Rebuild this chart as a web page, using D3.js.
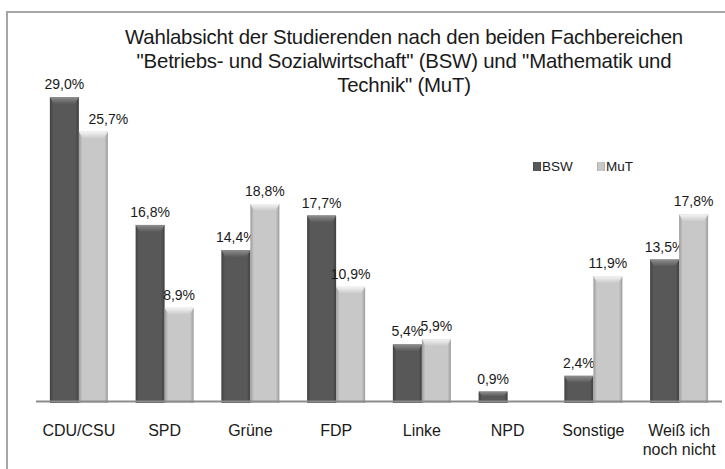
<!doctype html>
<html lang="de">
<head>
<meta charset="UTF-8">
<title>Wahlabsicht der Studierenden</title>
<style>
    body { margin: 0; background: #fff; }
    svg { display: block; font-family: "Liberation Sans", Arial, sans-serif; }
    .title { font-size: 20.4px; fill: #1a1a1a; letter-spacing: -0.2px; }
    .val { font-size: 14px; fill: #1a1a1a; }
    .cat { font-size: 16px; fill: #1a1a1a; }
    .leg { font-size: 13.5px; fill: #1a1a1a; }
</style>
</head>
<body>
<svg width="725" height="469"></svg>
<script src="https://d3js.org/d3.v7.min.js"></script>
<script>
// Daten
const categories = ["CDU/CSU", "SPD", "Grüne", "FDP", "Linke", "NPD", "Sonstige", "Weiß ich noch nicht"];
const seriesNames = ["BSW", "MuT"];
const bswValues = [29.0, 16.8, 14.4, 17.7, 5.4, 0.9, 2.4, 13.5];
const mutValues = [25.7, 8.9, 18.8, 10.9, 5.9, 0, 11.9, 17.8];
const titleLines = [
    "Wahlabsicht der Studierenden nach den beiden Fachbereichen",
    "\"Betriebs- und Sozialwirtschaft\" (BSW) und \"Mathematik und",
    "Technik\" (MuT)"
];

const svg = d3.select("svg");
const baseY = 401;

// Rahmen
svg.append("rect")
    .attr("x", 7).attr("y", 12)
    .attr("width", 740).attr("height", 480)
    .attr("fill", "none")
    .attr("stroke", "#a6a6a6")
    .attr("stroke-width", 2);

// Verläufe für die Balken
const defs = svg.append("defs");
const palette = {
    BSW: { mid: "#585858", edge: "#404040", top: "#8e8e8e" },
    MuT: { mid: "#c8c8c8", edge: "#9c9c9c", top: "#f4f4f4" }
};
seriesNames.forEach(s => {
    const g = defs.append("linearGradient").attr("id", "side-" + s)
        .attr("x1", 0).attr("x2", 1).attr("y1", 0).attr("y2", 0);
    g.append("stop").attr("offset", "0%").attr("stop-color", palette[s].edge);
    g.append("stop").attr("offset", "12%").attr("stop-color", palette[s].mid);
    g.append("stop").attr("offset", "88%").attr("stop-color", palette[s].mid);
    g.append("stop").attr("offset", "100%").attr("stop-color", palette[s].edge);
    const t = defs.append("linearGradient").attr("id", "top-" + s)
        .attr("x1", 0).attr("x2", 0).attr("y1", 0).attr("y2", 1);
    t.append("stop").attr("offset", "0%").attr("stop-color", palette[s].top);
    t.append("stop").attr("offset", "100%").attr("stop-color", palette[s].mid);
});

// Skalen
const x0 = d3.scaleBand().domain(categories).range([36, 722]);
const x1 = d3.scaleBand().domain(seriesNames).range([0, x0.bandwidth()]).paddingOuter(0.478);
const y = d3.scaleLinear().domain([0, 30]).range([baseY, baseY - 314.4]);

const rows = categories.map((c, i) => ({ cat: c, BSW: bswValues[i], MuT: mutValues[i] }));
const fmt = v => d3.format(".1f")(v).replace(".", ",") + "%";
const labelShift = { "CDU/CSU-MuT": 15 };

const groups = svg.append("g").selectAll("g")
    .data(rows).join("g")
    .attr("transform", d => `translate(${x0(d.cat)},0)`);

const bars = groups.selectAll("g.bar")
    .data(d => seriesNames.map(s => ({ cat: d.cat, key: s, value: d[s] })).filter(d => d.value > 0))
    .join("g").attr("class", "bar");

bars.append("rect")
    .attr("x", d => x1(d.key))
    .attr("y", d => y(d.value))
    .attr("width", x1.bandwidth())
    .attr("height", d => baseY - y(d.value) + 2)
    .attr("fill", d => `url(#side-${d.key})`);

// heller oberer Rand (Fase)
bars.append("path")
    .attr("d", d => {
        const x = x1(d.key), w = x1.bandwidth(), t = y(d.value);
        const h = Math.min(7, (baseY - t) / 2);
        return `M${x},${t}H${x + w}L${x + w - 4},${t + h}H${x + 4}Z`;
    })
    .attr("fill", d => `url(#top-${d.key})`);

bars.append("text")
    .attr("class", "val")
    .attr("x", d => x1(d.key) + x1.bandwidth() / 2 + (labelShift[d.cat + "-" + d.key] || 0))
    .attr("y", d => y(d.value) - 8)
    .attr("text-anchor", "middle")
    .text(d => fmt(d.value));

// x-Achse
svg.append("line")
    .attr("x1", 36).attr("x2", 722)
    .attr("y1", baseY + 0.5).attr("y2", baseY + 0.5)
    .attr("stroke", "#8c8c8c").attr("stroke-width", 2);

svg.append("g").selectAll("text")
    .data(categories).join("text")
    .attr("class", "cat")
    .attr("text-anchor", "middle")
    .attr("x", d => x0(d) + x0.bandwidth() / 2)
    .attr("y", 436)
    .each(function(d) {
        const lines = d === "Weiß ich noch nicht" ? ["Weiß ich", "noch nicht"] : [d];
        d3.select(this).selectAll("tspan").data(lines).join("tspan")
            .attr("x", x0(d) + x0.bandwidth() / 2)
            .attr("dy", (l, i) => i ? 19 : 0)
            .text(l => l);
    });

// Titel
svg.append("g").selectAll("text")
    .data(titleLines).join("text")
    .attr("class", "title")
    .attr("text-anchor", "middle")
    .attr("x", 404)
    .attr("y", (d, i) => 44 + i * 24)
    .text(d => d);

// Legende
const leg = svg.append("g").selectAll("g")
    .data(seriesNames).join("g")
    .attr("transform", (d, i) => `translate(${533 + i * 64},162)`);
leg.append("rect")
    .attr("width", 8).attr("height", 9)
    .attr("fill", d => `url(#side-${d})`);
leg.append("text")
    .attr("class", "leg")
    .attr("x", 9).attr("y", 9)
    .text(d => d);
</script>
</body>
</html>
